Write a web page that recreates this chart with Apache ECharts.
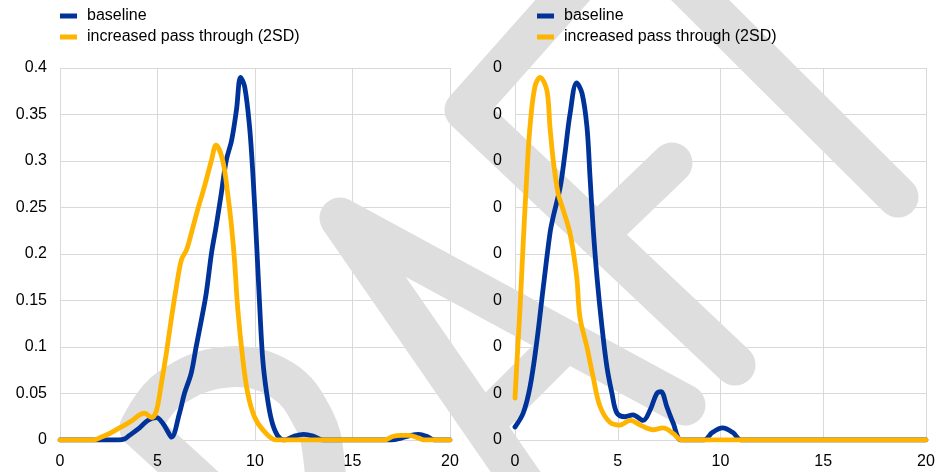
<!DOCTYPE html>
<html>
<head>
<meta charset="utf-8">
<script src="https://cdn.jsdelivr.net/npm/echarts@6/dist/echarts.min.js"></script>
<style>
html,body{margin:0;padding:0;background:#fff;}
#chart{width:941px;height:472px;}
</style>
</head>
<body>
<div id="chart"></div>
<script>
// ---- data ----
const seriesNames = ['baseline', 'increased pass through (2SD)'];
const xTicks = [0, 5, 10, 15, 20];

// left panel
const leftBaselineX = [0, 1, 2, 3, 3.3, 3.56, 4.08, 4.5, 4.95, 5.27, 5.53, 5.72, 6.13, 6.38, 6.73, 6.98, 7.25, 7.5, 7.77, 8.0, 8.27, 8.53, 8.8, 9.05, 9.26, 9.47, 9.72, 9.9, 10.08, 10.25, 10.4, 10.6, 10.85, 11.15, 11.5, 12.0, 12.5, 13.0, 13.5, 14, 15, 16, 17, 17.5, 18.0, 18.4, 18.8, 19.2, 20];
const leftBaselineY = [0, 0, 0, 0, 0.001, 0.005, 0.013, 0.021, 0.024, 0.018, 0.009, 0.003, 0.029, 0.05, 0.072, 0.1, 0.129, 0.158, 0.201, 0.229, 0.265, 0.301, 0.322, 0.355, 0.39, 0.38, 0.337, 0.283, 0.212, 0.14, 0.086, 0.05, 0.021, 0.005, 0, 0.004, 0.006, 0.004, 0, 0, 0, 0, 0, 0.002, 0.005, 0.006, 0.004, 0, 0];
const leftPassX = [0, 1, 1.7, 2.1, 2.54, 3.05, 3.56, 4.08, 4.33, 4.7, 4.95, 5.2, 5.45, 5.7, 5.97, 6.23, 6.48, 6.73, 7.05, 7.4, 7.77, 8.0, 8.34, 8.6, 8.8, 8.95, 9.12, 9.38, 9.63, 9.97, 10.4, 11.1, 12, 14, 16, 16.6, 17.1, 17.5, 17.9, 18.4, 18.7, 20];
const leftPassY = [0, 0, 0, 0.003, 0.007, 0.013, 0.019, 0.027, 0.029, 0.024, 0.032, 0.061, 0.093, 0.129, 0.165, 0.194, 0.204, 0.222, 0.247, 0.272, 0.301, 0.317, 0.301, 0.265, 0.229, 0.193, 0.14, 0.086, 0.05, 0.025, 0.011, 0, 0, 0, 0, 0, 0.004, 0.005, 0.005, 0.002, 0, 0];

// right panel
const rightBaselineX = [0, 0.4, 0.73, 1.05, 1.38, 1.7, 1.86, 2.2, 2.43, 2.68, 3.0, 3.26, 3.5, 3.65, 3.8, 3.99, 4.23, 4.47, 4.72, 4.96, 5.35, 5.74, 6.23, 6.57, 6.9, 7.1, 7.4, 7.7, 8.1, 9.2, 9.6, 10.1, 10.6, 11, 12, 15, 20];
const rightBaselineY = [0.014, 0.029, 0.057, 0.104, 0.165, 0.222, 0.24, 0.272, 0.308, 0.351, 0.384, 0.373, 0.337, 0.283, 0.229, 0.175, 0.122, 0.079, 0.05, 0.029, 0.025, 0.027, 0.021, 0.032, 0.05, 0.052, 0.035, 0.018, 0, 0, 0.008, 0.013, 0.008, 0, 0, 0, 0];
const rightPassX = [0, 0.1, 0.24, 0.4, 0.57, 0.73, 0.97, 1.22, 1.55, 1.7, 1.86, 2.1, 2.35, 2.68, 3.0, 3.16, 3.5, 3.8, 4.14, 4.62, 5.1, 5.6, 6.1, 6.4, 6.7, 7.2, 7.7, 8.1, 9, 12, 15, 20];
const rightPassY = [0.045, 0.086, 0.14, 0.212, 0.283, 0.337, 0.38, 0.39, 0.376, 0.337, 0.301, 0.265, 0.247, 0.222, 0.176, 0.132, 0.1, 0.068, 0.036, 0.019, 0.016, 0.021, 0.016, 0.013, 0.011, 0.013, 0.007, 0, 0, 0, 0, 0];

const yMin = 0, yMax = 0.4, yStep = 0.05;
const xMin = 0, xMax = 20, xStep = 5;

// ---- build ----
const pairs = (xs, ys) => xs.map((x, i) => [x, ys[i]]);
const BLUE = '#003399', YELLOW = '#FFB400', GRIDC = '#d9d9d9', WM = '#dedede';
const FONT = 'Liberation Sans, Arial, sans-serif';

const grids = [
  {left: 60, top: 68, width: 390, height: 372},
  {left: 515, top: 68, width: 411, height: 372},
  {left: 60, top: 68, width: 390, height: 372},
  {left: 515, top: 68, width: 411, height: 372}
];

function xAx(gi, labels) {
  return {
    type: 'value', gridIndex: gi, min: xMin, max: xMax, interval: xStep,
    axisLine: {show: false}, axisTick: {show: false},
    splitLine: {show: !labels, lineStyle: {color: GRIDC, width: 1}},
    axisLabel: {show: labels, fontSize: 16, color: '#000', fontFamily: FONT, margin: 14},
    z: labels ? 6 : 0
  };
}
function yAx(gi, labels, fmt) {
  return {
    type: 'value', gridIndex: gi, min: yMin, max: yMax, interval: yStep,
    axisLine: {show: false}, axisTick: {show: false},
    splitLine: {show: !labels, lineStyle: {color: GRIDC, width: 1}},
    axisLabel: {show: labels, fontSize: 16, color: '#000', fontFamily: FONT, margin: 13, formatter: fmt},
    z: labels ? 6 : 0
  };
}

function line(name, data, idx, color) {
  return {
    name, type: 'line', data, xAxisIndex: idx, yAxisIndex: idx,
    showSymbol: false, symbol: 'none', smooth: 0.35,
    lineStyle: {color, width: 4.8, cap: 'round', join: 'round'},
    itemStyle: {color}, z: 3
  };
}

function legend(left) {
  return {
    orient: 'vertical', left, top: 3, padding: [5, 5, 5, 0], itemWidth: 17, itemHeight: 5, itemGap: 5,
    icon: 'rect', data: seriesNames,
    textStyle: {fontSize: 16, color: '#000', fontFamily: FONT, padding: [0, 0, 0, 5]}
  };
}

function stroke(points, smooth) {
  return {
    type: 'polyline', silent: true, z: 1,
    shape: {points, smooth: smooth || 0},
    style: {stroke: WM, lineWidth: 41, lineCap: 'round', lineJoin: 'round', fill: null}
  };
}

const watermark = [
  stroke([[140, 428], [168, 390], [227, 367], [282, 380], [314, 420], [324, 460], [326, 510]], 0.4),
  stroke([[140, 428], [290, 565]]),
  stroke([[535, 500], [340, 218], [685, 405]]),
  stroke([[485, 422], [565, 342]]),
  stroke([[735, 365], [465, 110], [585, -25]]),
  stroke([[597, 235], [672, 163]]),
  stroke([[898, 197], [680, -20]])
];

const chart = echarts.init(document.getElementById('chart'), null, {renderer: 'canvas'});
chart.setOption({
  animation: false,
  backgroundColor: '#fff',
  grid: grids,
  legend: [legend(60), legend(537)],
  xAxis: [xAx(0, false), xAx(1, false), xAx(2, true), xAx(3, true)],
  yAxis: [yAx(0, false), yAx(1, false), yAx(2, true, null), yAx(3, true, v => v.toFixed(0))],
  graphic: watermark,
  series: [
    line(seriesNames[0], pairs(leftBaselineX, leftBaselineY), 0, BLUE),
    line(seriesNames[1], pairs(leftPassX, leftPassY), 0, YELLOW),
    line(seriesNames[0], pairs(rightBaselineX, rightBaselineY), 1, BLUE),
    line(seriesNames[1], pairs(rightPassX, rightPassY), 1, YELLOW)
  ]
});
</script>
</body>
</html>
